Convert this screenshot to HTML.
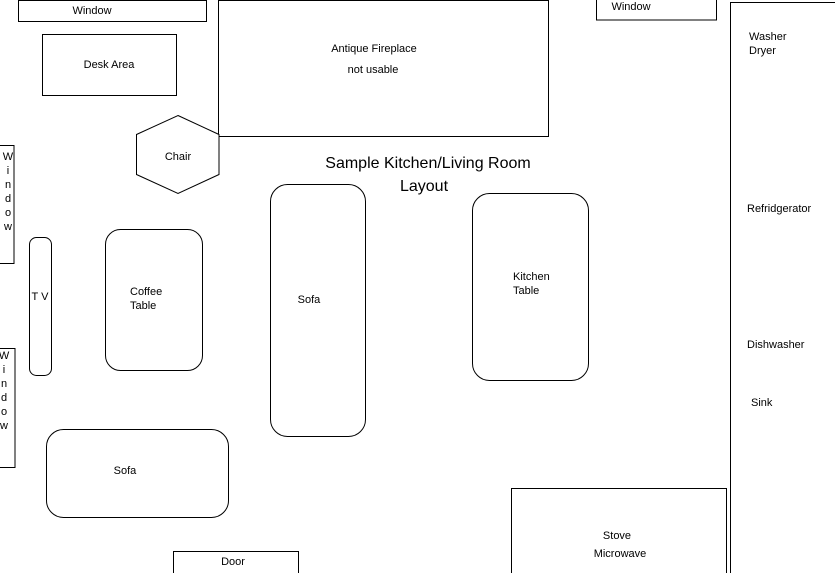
<!DOCTYPE html>
<html><head><meta charset="utf-8"><style>
html,body{margin:0;padding:0;background:#fff;}
svg{display:block;}
text{font-family:"Liberation Sans",Arial,sans-serif;font-size:11px;fill:#000;}
</style></head><body>
<svg width="835" height="573" viewBox="0 0 835 573" xmlns="http://www.w3.org/2000/svg">
<g fill="#fff" stroke="#000" stroke-width="1">
<rect x="18.5" y="0.5" width="188" height="21"/>
<rect x="42.5" y="34.5" width="134" height="61"/>
<rect x="218.5" y="0.5" width="330" height="136"/>
<rect x="596.5" y="-1" width="120" height="21"/>
<rect x="730.5" y="2.5" width="110" height="575"/>
<polygon points="178,115.5 219,134.5 219,174.5 178,193.5 136.5,174.5 136.5,134.5"/>
<rect x="-1" y="145.5" width="15" height="118"/>
<rect x="-1" y="348.5" width="16" height="119"/>
<rect x="29.5" y="237.5" width="22" height="138" rx="7"/>
<rect x="105.5" y="229.5" width="97" height="141" rx="15"/>
<rect x="270.5" y="184.5" width="95" height="252" rx="17"/>
<rect x="472.5" y="193.5" width="116" height="187" rx="17"/>
<rect x="46.5" y="429.5" width="182" height="88" rx="17"/>
<rect x="173.5" y="551.5" width="125" height="25"/>
<rect x="511.5" y="488.5" width="215" height="90"/>
</g>
<text x="92" y="14" text-anchor="middle">Window</text>
<text x="109" y="68" text-anchor="middle">Desk Area</text>
<text x="374" y="52" text-anchor="middle">Antique Fireplace</text>
<text x="373" y="73" text-anchor="middle">not usable</text>
<text x="631" y="10" text-anchor="middle">Window</text>
<text x="749" y="40">Washer</text>
<text x="749" y="54">Dryer</text>
<text x="747" y="212">Refridgerator</text>
<text x="747" y="348">Dishwasher</text>
<text x="751" y="406">Sink</text>
<text x="178" y="160" text-anchor="middle">Chair</text>
<text x="428" y="168" text-anchor="middle" style="font-size:16px">Sample Kitchen/Living Room</text>
<text x="424" y="191" text-anchor="middle" style="font-size:16px">Layout</text>
<g text-anchor="middle">
<text x="8" y="160">W</text><text x="8" y="174">i</text><text x="8" y="188">n</text><text x="8" y="202">d</text><text x="8" y="216">o</text><text x="8" y="230">w</text>
<text x="4" y="359">W</text><text x="4" y="373">i</text><text x="4" y="387">n</text><text x="4" y="401">d</text><text x="4" y="415">o</text><text x="4" y="429">w</text>
</g>
<text x="40" y="300" text-anchor="middle">T V</text>
<text x="130" y="295">Coffee</text>
<text x="130" y="309">Table</text>
<text x="309" y="303" text-anchor="middle">Sofa</text>
<text x="513" y="280">Kitchen</text>
<text x="513" y="294">Table</text>
<text x="125" y="474" text-anchor="middle">Sofa</text>
<text x="233" y="565" text-anchor="middle">Door</text>
<text x="617" y="539" text-anchor="middle">Stove</text>
<text x="620" y="557" text-anchor="middle">Microwave</text>
</svg>
</body></html>
